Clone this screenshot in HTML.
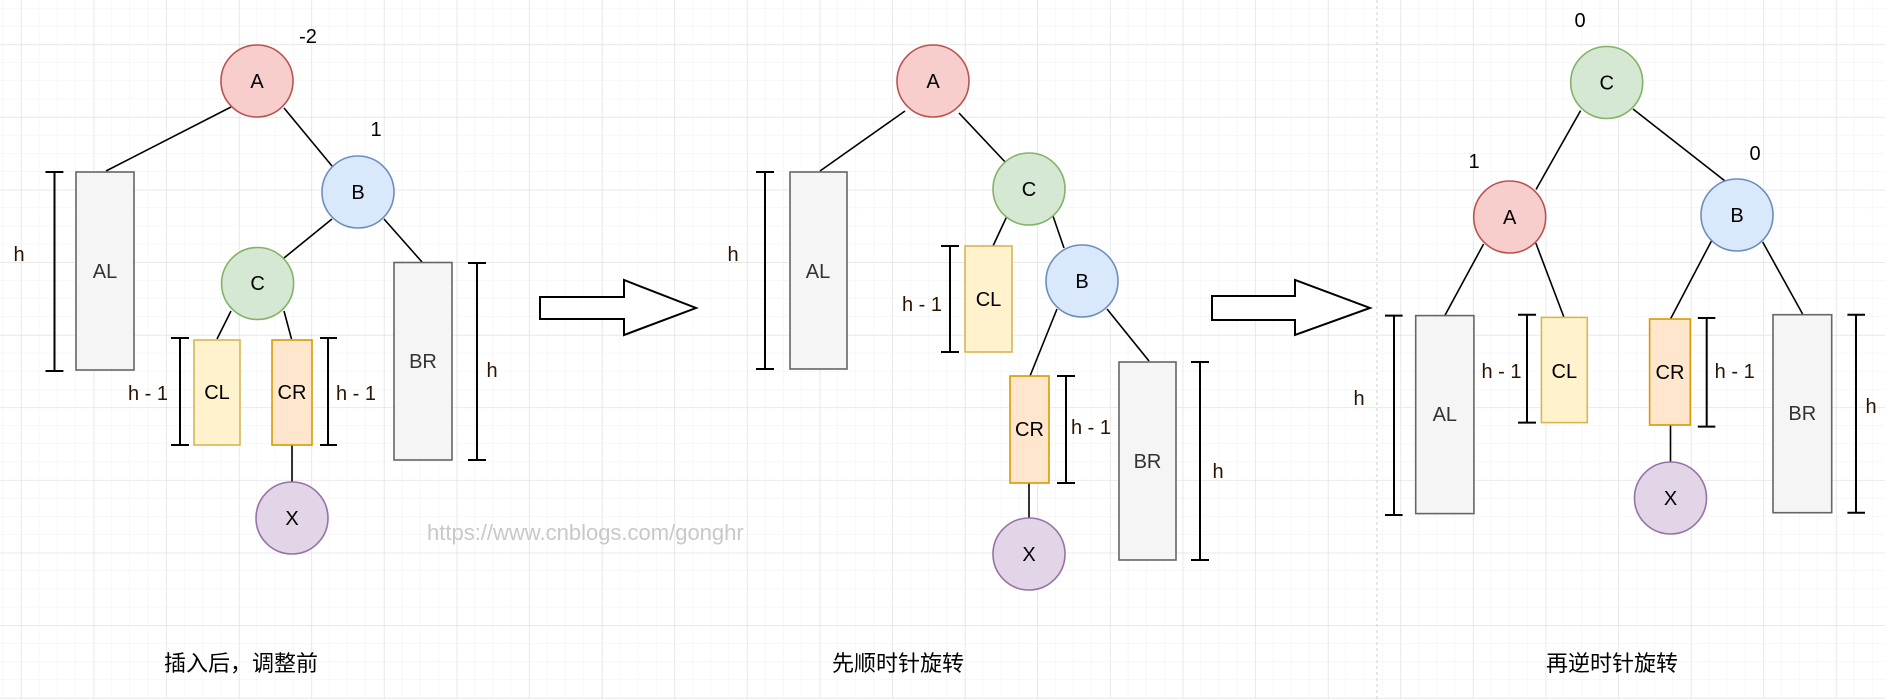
<!DOCTYPE html>
<html><head><meta charset="utf-8"><style>
html,body{margin:0;padding:0;background:#fff;}
svg{display:block;}
text{font-family:"Liberation Sans","Noto Sans CJK SC",sans-serif;}
</style></head><body>
<svg width="1885" height="699" viewBox="0 0 1885 699" xmlns="http://www.w3.org/2000/svg">
<defs>
<pattern id="minor" x="3" y="8.4" width="18.15" height="18.15" patternUnits="userSpaceOnUse">
<path d="M18.15 0V18.15H0" fill="none" stroke="#f0f0f0" stroke-width="1"/>
</pattern>
<pattern id="major" x="21.2" y="44.6" width="72.6" height="72.6" patternUnits="userSpaceOnUse">
<path d="M0 0V72.6M0 0H72.6" fill="none" stroke="#dedede" stroke-width="1"/>
</pattern>
</defs>
<rect width="1885" height="699" fill="#fff"/>
<rect width="1885" height="699" fill="url(#minor)"/>
<rect width="1885" height="699" fill="url(#major)"/>
<line x1="1377" y1="0" x2="1377" y2="699" stroke="#cfcfcf" stroke-dasharray="3,3"/>

<g stroke="#000" stroke-width="1.6" fill="none">
<line x1="231" y1="107" x2="106" y2="171"/>
<line x1="284" y1="108" x2="332" y2="166"/>
<line x1="332" y1="219" x2="284" y2="258"/>
<line x1="384" y1="219" x2="422" y2="262"/>
<line x1="231" y1="311" x2="217" y2="339"/>
<line x1="284" y1="311" x2="291.5" y2="339"/>
<line x1="292" y1="445" x2="292" y2="482"/>
<line x1="905" y1="111" x2="820" y2="171"/>
<line x1="959" y1="113" x2="1007" y2="164"/>
<line x1="1007" y1="216" x2="993" y2="246"/>
<line x1="1053" y1="216" x2="1064" y2="248"/>
<line x1="1057" y1="309" x2="1030" y2="376"/>
<line x1="1107" y1="309" x2="1149" y2="361"/>
<line x1="1029" y1="483" x2="1029" y2="518"/>
<line x1="1580.6" y1="110.6" x2="1536" y2="189.5"/>
<line x1="1633" y1="109" x2="1725" y2="181"/>
<line x1="1483.6" y1="244" x2="1444.8" y2="315.6"/>
<line x1="1535.8" y1="243" x2="1564" y2="317.4"/>
<line x1="1711.6" y1="240.7" x2="1670.5" y2="319"/>
<line x1="1762.7" y1="242" x2="1802.6" y2="314"/>
<line x1="1670.5" y1="425" x2="1670.5" y2="462"/>
</g>

<g stroke="#000" stroke-width="2" fill="none">
<path d="M54.5 172V371M45.5 172H63.4M45.5 371H63.4"/>
<path d="M180 338V445M171 338H189M171 445H189"/>
<path d="M328 338V445M320 338H337M320 445H337"/>
<path d="M477 263V460M468 263H486M468 460H486"/>
<path d="M765 172V369M756 172H774M756 369H774"/>
<path d="M950 246V352M941 246H959M941 352H959"/>
<path d="M1066 376V483M1057 376H1075M1057 483H1075"/>
<path d="M1200 362V560M1191 362H1209M1191 560H1209"/>
<path d="M1394 315.6V515M1385 315.6H1402.6M1385 515H1402.6"/>
<path d="M1527 314.7V422.6M1518 314.7H1536M1518 422.6H1536"/>
<path d="M1706.7 318V426.6M1697.8 318H1715.3M1697.8 426.6H1715.3"/>
<path d="M1856 314.7V512.7M1847.4 314.7H1865M1847.4 512.7H1865"/>
</g>

<path d="M540 297H624V280L696 308L624 335V319H540Z" fill="#fff" stroke="#000" stroke-width="2"/>
<path d="M1212 296H1295V280L1370 308L1295 335V320H1212Z" fill="#fff" stroke="#000" stroke-width="2"/>

<g stroke-width="1.6">
<rect x="76" y="172" width="58" height="198" fill="#f5f5f5" stroke="#666"/>
<rect x="394" y="262.5" width="58" height="197.5" fill="#f5f5f5" stroke="#666"/>
<rect x="194" y="340" width="46" height="105" fill="#fff2cc" stroke="#d6b656"/>
<rect x="272" y="340" width="40" height="105" fill="#ffe6cc" stroke="#d79b00"/>
<rect x="790" y="172" width="57" height="197" fill="#f5f5f5" stroke="#666"/>
<rect x="965" y="246" width="47" height="106" fill="#fff2cc" stroke="#d6b656"/>
<rect x="1010" y="376" width="39" height="107" fill="#ffe6cc" stroke="#d79b00"/>
<rect x="1119" y="362" width="57" height="198" fill="#f5f5f5" stroke="#666"/>
<rect x="1415.7" y="315.6" width="58.2" height="198" fill="#f5f5f5" stroke="#666"/>
<rect x="1541.4" y="317.4" width="45.9" height="105.2" fill="#fff2cc" stroke="#d6b656"/>
<rect x="1649.6" y="319" width="40.7" height="106" fill="#ffe6cc" stroke="#d79b00"/>
<rect x="1773" y="314.7" width="58.7" height="198" fill="#f5f5f5" stroke="#666"/>
</g>

<g stroke-width="1.6">
<circle cx="257" cy="81" r="36" fill="#f8cecc" stroke="#b85450"/>
<circle cx="358" cy="192" r="36" fill="#dae8fc" stroke="#6c8ebf"/>
<circle cx="257.6" cy="283.5" r="36" fill="#d5e8d4" stroke="#82b366"/>
<circle cx="292" cy="518" r="36" fill="#e1d5e7" stroke="#9673a6"/>
<circle cx="933" cy="81" r="36" fill="#f8cecc" stroke="#b85450"/>
<circle cx="1029" cy="189" r="36" fill="#d5e8d4" stroke="#82b366"/>
<circle cx="1082" cy="281" r="36" fill="#dae8fc" stroke="#6c8ebf"/>
<circle cx="1029" cy="554" r="36" fill="#e1d5e7" stroke="#9673a6"/>
<circle cx="1606.7" cy="82.5" r="36" fill="#d5e8d4" stroke="#82b366"/>
<circle cx="1509.7" cy="217" r="36" fill="#f8cecc" stroke="#b85450"/>
<circle cx="1737" cy="215" r="36" fill="#dae8fc" stroke="#6c8ebf"/>
<circle cx="1670.5" cy="498" r="36" fill="#e1d5e7" stroke="#9673a6"/>
</g>

<g font-size="20" text-anchor="middle" fill="#000">
<text x="257" y="88">A</text><text x="358" y="199">B</text><text x="257.6" y="290">C</text><text x="292" y="525">X</text>
<text x="105" y="278" fill="#333">AL</text><text x="423" y="368" fill="#333">BR</text>
<text x="217" y="399">CL</text><text x="292" y="399">CR</text>
<text x="933" y="88">A</text><text x="1029" y="196">C</text><text x="1082" y="288">B</text><text x="1029" y="561">X</text>
<text x="818" y="278" fill="#333">AL</text><text x="988.5" y="306">CL</text><text x="1029.5" y="436">CR</text><text x="1147.5" y="468" fill="#333">BR</text>
<text x="1606.7" y="89.5">C</text><text x="1509.7" y="224">A</text><text x="1737" y="222">B</text><text x="1670.5" y="505">X</text>
<text x="1444.8" y="421" fill="#333">AL</text><text x="1564.3" y="378">CL</text><text x="1670" y="379">CR</text><text x="1802.3" y="420" fill="#333">BR</text>
</g>

<g font-size="20" fill="#000" text-anchor="middle">
<text x="308" y="43">-2</text><text x="376" y="136">1</text>
<text x="1580" y="27">0</text><text x="1474" y="168">1</text><text x="1755" y="160">0</text>
</g>
<g font-size="20" fill="#2b1300" text-anchor="middle">
<text x="19" y="261">h</text><text x="492" y="377">h</text>
<text x="148" y="400">h - 1</text><text x="356" y="400">h - 1</text>
<text x="733" y="261">h</text><text x="922" y="311">h - 1</text><text x="1091" y="434">h - 1</text><text x="1218" y="478">h</text>
<text x="1359" y="405">h</text><text x="1501.5" y="378">h - 1</text><text x="1734.7" y="378">h - 1</text><text x="1871" y="413">h</text>
</g>

<text x="427" y="540" font-size="22" fill="#c8c8c8">https://www.cnblogs.com/gonghr</text>

<g font-size="22" text-anchor="middle" fill="#000">
<text x="241" y="671">插入后，调整前</text>
<text x="898" y="671">先顺时针旋转</text>
<text x="1612" y="671">再逆时针旋转</text>
</g>
</svg>
</body></html>
